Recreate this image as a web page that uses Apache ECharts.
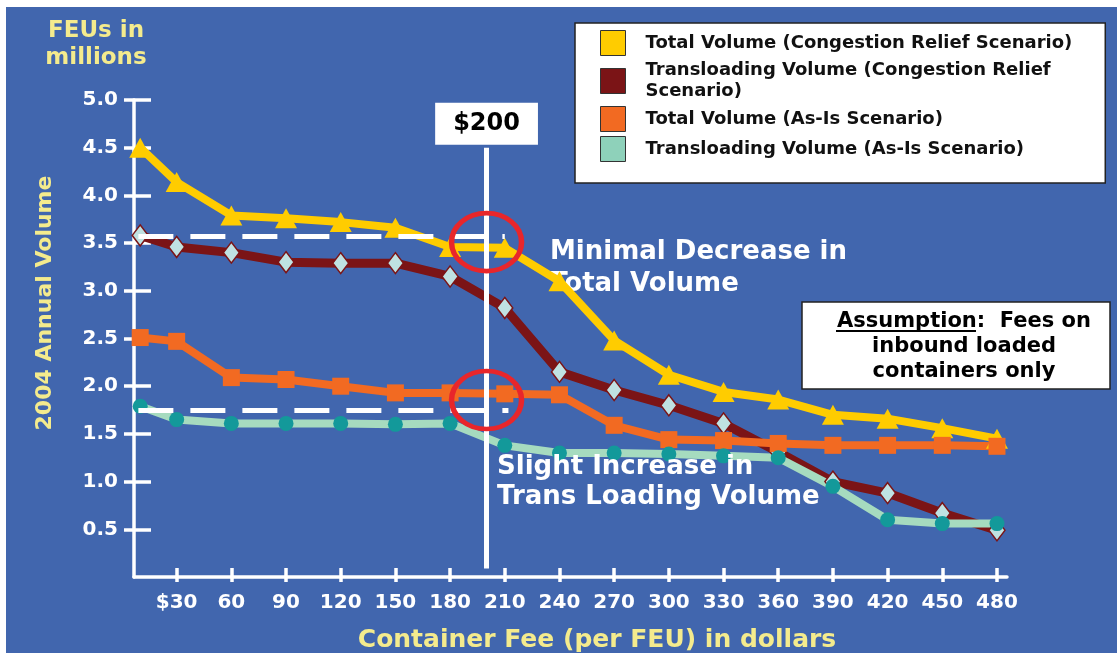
<!DOCTYPE html>
<html>
<head>
<meta charset="utf-8">
<style>
  html, body { margin: 0; padding: 0; background: #fff; }
  #chart { width: 1117px; height: 653px; }
</style>
<script src="https://cdn.jsdelivr.net/npm/echarts@6/dist/echarts.min.js"></script>
</head>
<body>
<div id="chart"></div>
<script>
// container fee in dollars (x) and annual volume in millions of FEUs (y)
var fees = [10, 30, 60, 90, 120, 150, 180, 210, 240, 270, 300, 330, 360, 390, 420, 450, 480];
var totalRelief = [4.50, 4.14, 3.79, 3.76, 3.72, 3.66, 3.46, 3.45, 3.10, 2.48, 2.12, 1.94, 1.86, 1.70, 1.66, 1.56, 1.45];
var transRelief = [3.58, 3.46, 3.40, 3.30, 3.29, 3.29, 3.15, 2.82, 2.15, 1.96, 1.80, 1.61, 1.31, 1.00, 0.88, 0.67, 0.49];
var totalAsIs = [2.51, 2.47, 2.09, 2.07, 2.00, 1.93, 1.93, 1.92, 1.91, 1.59, 1.44, 1.43, 1.40, 1.38, 1.38, 1.38, 1.37];
var transAsIs = [1.79, 1.65, 1.61, 1.61, 1.61, 1.60, 1.61, 1.38, 1.30, 1.30, 1.29, 1.27, 1.25, 0.95, 0.60, 0.56, 0.56];

var xTicks = [30, 60, 90, 120, 150, 180, 210, 240, 270, 300, 330, 360, 390, 420, 450, 480];
var yTicks = [0.5, 1.0, 1.5, 2.0, 2.5, 3.0, 3.5, 4.0, 4.5, 5.0];

var seriesNames = [
  'Total Volume (Congestion Relief Scenario)',
  'Transloading Volume (Congestion Relief Scenario)',
  'Total Volume (As-Is Scenario)',
  'Transloading Volume (As-Is Scenario)'
];

// reference lines: $200 fee, and the volume levels at the start of each transloading line
var feeMark = 200;
var reliefLevel = 3.57;
var asIsLevel = 1.75;
var circledPoints = [[200, 3.51], [200, 1.855]];

var FONT = 'DejaVu Sans';
var BLUE = '#4166AE';
var PALE = '#F4EB8D';

function pairs(ys) {
  return fees.map(function (f, i) { return [f, ys[i]]; });
}

var chart = echarts.init(document.getElementById('chart'));

var option = {
  animation: false,
  backgroundColor: BLUE,
  grid: { left: 134, right: 110, top: 100, bottom: 76, containLabel: false },
  xAxis: [
    {
      type: 'value', min: 6.6, max: 485.5,
      axisLine: { lineStyle: { color: '#fff', width: 3.5 } },
      axisTick: { show: true, customValues: xTicks, length: 5, lineStyle: { color: '#fff', width: 3.5 } },
      axisLabel: {
        customValues: xTicks, margin: 16, color: '#fff',
        fontFamily: FONT, fontWeight: 'bold', fontSize: 20,
        formatter: function (v) { return v === 30 ? '$30' : String(v); }
      },
      splitLine: { show: false }
    },
    {
      type: 'value', min: 6.6, max: 485.5, position: 'bottom',
      axisLine: { show: false },
      axisTick: { show: true, inside: true, customValues: xTicks, length: 9, lineStyle: { color: '#fff', width: 3.5 } },
      axisLabel: { show: false },
      splitLine: { show: false }
    }
  ],
  yAxis: [
    {
      type: 'value', min: 0, max: 5,
      axisLine: { show: true, lineStyle: { color: '#fff', width: 3.5 } },
      axisTick: { show: true, customValues: yTicks, length: 10, lineStyle: { color: '#fff', width: 3.5 } },
      axisLabel: {
        customValues: yTicks, margin: 16, color: '#fff',
        fontFamily: FONT, fontWeight: 'bold', fontSize: 20,
        formatter: function (v) { return v.toFixed(1); }
      },
      splitLine: { show: false }
    },
    {
      type: 'value', min: 0, max: 5, position: 'left',
      axisLine: { show: false },
      axisTick: { show: true, inside: true, customValues: yTicks, length: 17, lineStyle: { color: '#fff', width: 3.5 } },
      axisLabel: { show: false },
      splitLine: { show: false }
    }
  ],
  legend: {
    orient: 'vertical',
    left: 575, top: 23,
    backgroundColor: '#fff',
    borderColor: '#222', borderWidth: 1.5, borderRadius: 0,
    padding: [7, 33, 21, 25],
    itemWidth: 25, itemHeight: 25, itemGap: 4,
    icon: 'rect',
    selectedMode: false,
    itemStyle: { borderColor: '#333', borderWidth: 1 },
    textStyle: {
      color: '#111', fontFamily: FONT, fontWeight: 'bold', fontSize: 18,
      lineHeight: 21, padding: [0, 0, 0, 15]
    },
    formatter: function (name) {
      return name === seriesNames[1] ? 'Transloading Volume (Congestion Relief\nScenario)' : name;
    },
    data: [
      { name: seriesNames[0], itemStyle: { color: '#FFCC00' } },
      { name: seriesNames[1], itemStyle: { color: '#7B1416' } },
      { name: seriesNames[2], itemStyle: { color: '#F26A22' } },
      { name: seriesNames[3], itemStyle: { color: '#8ED1BA' } }
    ]
  },
  graphic: [
    { type: 'rect', silent: true, shape: { x: 0, y: 0, width: 1117, height: 7 }, style: { fill: '#fff' } },
    { type: 'rect', silent: true, shape: { x: 0, y: 0, width: 6, height: 653 }, style: { fill: '#fff' } },
    {
      type: 'text', x: 96, y: 18,
      style: { text: 'FEUs in\nmillions', fill: PALE, fontFamily: FONT, fontWeight: 'bold', fontSize: 23, lineHeight: 27, textAlign: 'center' }
    },
    {
      type: 'text', x: 45, y: 303, rotation: Math.PI / 2,
      style: { text: '2004 Annual Volume', fill: PALE, fontFamily: FONT, fontWeight: 'bold', fontSize: 22, textAlign: 'center', textVerticalAlign: 'middle' }
    },
    {
      type: 'text', x: 597, y: 640,
      style: { text: 'Container Fee (per FEU) in dollars', fill: PALE, fontFamily: FONT, fontWeight: 'bold', fontSize: 25, textAlign: 'center', textVerticalAlign: 'middle' }
    },
    {
      type: 'text', x: 550, y: 236,
      style: { text: 'Minimal Decrease in\nTotal Volume', fill: '#fff', fontFamily: FONT, fontWeight: 'bold', fontSize: 26, lineHeight: 32 }
    },
    {
      type: 'text', x: 497, y: 452, z: 10,
      style: { text: 'Slight Increase in\nTrans Loading Volume', fill: '#fff', fontFamily: FONT, fontWeight: 'bold', fontSize: 26, lineHeight: 30 }
    },
    {
      type: 'rect', shape: { x: 802, y: 302, width: 308, height: 87 },
      style: { fill: '#fff', stroke: '#222', lineWidth: 1.5 }
    },
    {
      type: 'text', x: 964, y: 309,
      style: { text: 'Assumption:  Fees on\ninbound loaded\ncontainers only', fill: '#000', fontFamily: FONT, fontWeight: 'bold', fontSize: 21, lineHeight: 25, textAlign: 'center' }
    },
    {
      type: 'line', shape: { x1: 836, y1: 331, x2: 976, y2: 331 },
      style: { stroke: '#000', lineWidth: 2 }
    }
  ],
  series: [
    {
      name: seriesNames[0], type: 'line', data: pairs(totalRelief),
      symbol: 'triangle', symbolSize: [22, 20],
      lineStyle: { color: '#FFCC00', width: 8 },
      itemStyle: { color: '#FFCC00' }
    },
    {
      name: seriesNames[1], type: 'line', data: pairs(transRelief),
      symbol: 'diamond', symbolSize: [16, 21],
      lineStyle: { color: '#7B1416', width: 9 },
      itemStyle: { color: '#BFE2E2', borderColor: '#7B1416', borderWidth: 1.5 }
    },
    {
      name: seriesNames[2], type: 'line', data: pairs(totalAsIs),
      symbol: 'rect', symbolSize: 17,
      lineStyle: { color: '#F26A22', width: 8 },
      itemStyle: { color: '#F26A22' }
    },
    {
      name: seriesNames[3], type: 'line', data: pairs(transAsIs),
      symbol: 'circle', symbolSize: 15,
      lineStyle: { color: '#A6DBBF', width: 8 },
      itemStyle: { color: '#13999A' }
    },
    {
      name: 'marks', type: 'line', data: [], silent: true,
      markLine: {
        silent: true, symbol: ['none', 'none'],
        data: [
          [
            { coord: [feeMark, 0.09], lineStyle: { color: '#fff', width: 5, type: 'solid' } },
            {
              coord: [feeMark, 4.5],
              label: {
                show: true, position: 'end', distance: 3,
                formatter: '$' + feeMark,
                color: '#000', fontFamily: FONT, fontWeight: 'bold', fontSize: 24, lineHeight: 28,
                backgroundColor: '#fff', padding: [7, 18, 7, 18]
              }
            }
          ],
          [
            { coord: [9, reliefLevel], lineStyle: { color: '#fff', width: 5, type: [35, 17] }, label: { show: false } },
            { coord: [210, reliefLevel] }
          ],
          [
            { coord: [9, asIsLevel], lineStyle: { color: '#fff', width: 5, type: [35, 17] }, label: { show: false } },
            { coord: [212, asIsLevel] }
          ]
        ]
      }
    },
    {
      name: 'circled', type: 'scatter', data: circledPoints, silent: true, z: 8,
      symbol: 'circle', symbolSize: [70, 58],
      itemStyle: { color: 'rgba(0,0,0,0)', borderColor: '#E8262B', borderWidth: 5, opacity: 1 }
    }
  ]
};

chart.setOption(option);
</script>
</body>
</html>
